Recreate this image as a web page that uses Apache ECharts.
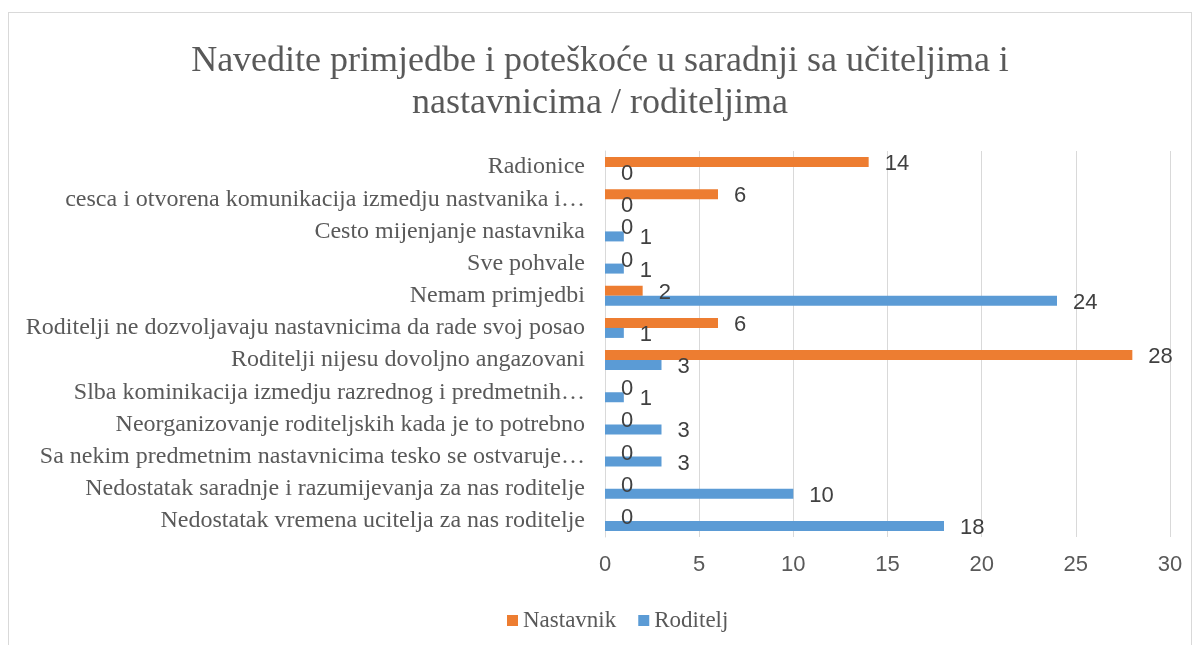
<!DOCTYPE html>
<html>
<head>
<meta charset="utf-8">
<script src="https://cdn.jsdelivr.net/npm/echarts@6/dist/echarts.min.js"></script>
<style>
    html, body { margin: 0; padding: 0; background: #ffffff; }
    #frame { position: absolute; left: 8px; top: 12px; width: 1184px; height: 640px; border: 1px solid #d9d9d9; box-sizing: border-box; }
    #chart { position: absolute; left: 0; top: 0; width: 1200px; height: 645px; }
</style>
</head>
<body>
<div id="frame"></div>
<div id="chart"></div>
<script>
// categories from bottom to top (category axis runs upwards)
const categories = [
    'Nedostatak vremena ucitelja za nas roditelje',
    'Nedostatak saradnje i razumijevanja za nas roditelje',
    'Sa nekim predmetnim nastavnicima tesko se ostvaruje…',
    'Neorganizovanje roditeljskih kada je to potrebno',
    'Slba kominikacija izmedju razrednog i predmetnih…',
    'Roditelji nijesu dovoljno angazovani',
    'Roditelji ne dozvoljavaju nastavnicima da rade svoj posao',
    'Nemam primjedbi',
    'Sve pohvale',
    'Cesto mijenjanje nastavnika',
    'cesca i otvorena komunikacija izmedju nastvanika i…',
    'Radionice'
]
const nastavnik = [0, 0, 0, 0, 0, 28, 6, 2, 0, 0, 6, 14]
const roditelj = [18, 10, 3, 3, 1, 3, 1, 24, 1, 1, 0, 0]
const xTicks = [0, 5, 10, 15, 20, 25, 30]
const legendNames = ['Nastavnik', 'Roditelj']

const chart = echarts.init(document.getElementById('chart'))

const labelStyle = {
    show: true,
    position: 'right',
    distance: 16,
    offset: [0, 2],
    color: '#404040',
    fontFamily: 'Liberation Sans',
    fontSize: 22
}

const legendText = {
    fontFamily: 'Liberation Serif',
    fontSize: 23,
    color: '#595959'
}

const option = {
    animation: false,
    title: {
        text: 'Navedite primjedbe i poteškoće u saradnji sa učiteljima i\nnastavnicima / roditeljima',
        left: 'center',
        top: 36,
        textStyle: {
            fontFamily: 'Liberation Serif',
            fontWeight: 'normal',
            fontSize: 36,
            lineHeight: 42,
            color: '#595959'
        }
    },
    legend: {
        data: legendNames.map(n => ({ name: n, textStyle: legendText })),
        top: 604,
        left: 502,
        itemWidth: 11,
        itemHeight: 11,
        itemGap: 22,
        icon: 'rect',
        textStyle: legendText,
        formatter: name => name
    },
    grid: {
        left: 605,
        right: 30,
        top: 151,
        bottom: 108
    },
    xAxis: {
        type: 'value',
        min: xTicks[0],
        max: xTicks[xTicks.length - 1],
        interval: 5,
        axisLine: { show: false },
        axisTick: { show: false },
        splitLine: { lineStyle: { color: '#d9d9d9', width: 1 } },
        axisLabel: {
            margin: 17,
            fontFamily: 'Liberation Sans',
            fontSize: 22,
            color: '#595959'
        }
    },
    yAxis: {
        type: 'category',
        data: categories,
        axisLine: { lineStyle: { color: '#d9d9d9' } },
        axisTick: { show: false },
        axisLabel: {
            margin: 20,
            interval: 0,
            fontFamily: 'Liberation Serif',
            fontSize: 24,
            color: '#595959'
        }
    },
    series: [
        {
            name: 'Nastavnik',
            type: 'bar',
            data: nastavnik,
            barWidth: 10,
            barGap: '0%',
            itemStyle: { color: '#ed7d31' },
            label: labelStyle
        },
        {
            name: 'Roditelj',
            type: 'bar',
            data: roditelj,
            barWidth: 10,
            barGap: '0%',
            itemStyle: { color: '#5b9bd5' },
            label: labelStyle
        }
    ]
}

chart.setOption(option)
</script>
</body>
</html>
